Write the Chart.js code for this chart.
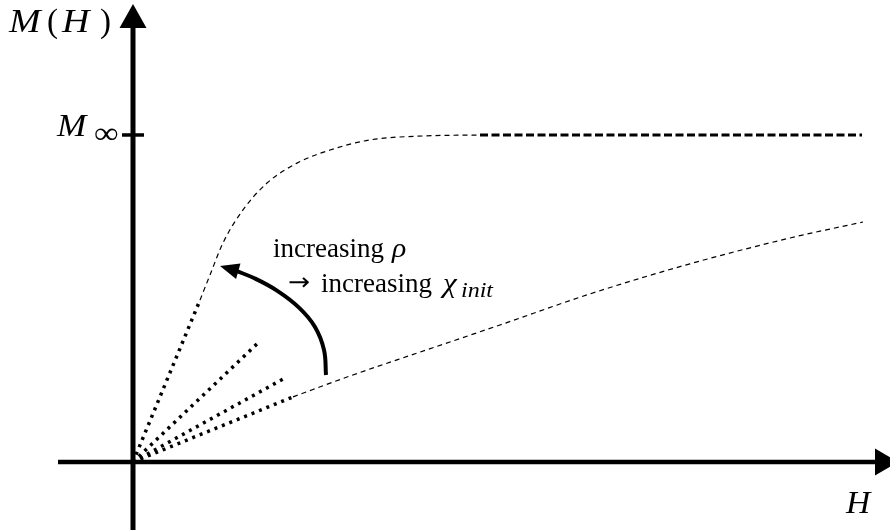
<!DOCTYPE html>
<html>
<head>
<meta charset="utf-8">
<script src="https://cdn.jsdelivr.net/npm/chart.js@4"></script>
<style>
  html, body { margin: 0; padding: 0; background: #fff; }
  canvas { display: block; }
</style>
</head>
<body>
<canvas id="magChart" width="890" height="530"></canvas>
<script>
// H in arbitrary field units, M normalised so that M_inf = 1

// saturating curve (high rho)
const satH = [0.67, 0.77, 0.90, 1.10, 1.34, 1.64, 1.97, 2.37, 2.90, 3.47];
const satM = [0.495, 0.572, 0.670, 0.771, 0.853, 0.914, 0.954, 0.985, 0.997, 1.0];

// saturation plateau M = M_inf
const plateauH = [3.47, 7.29];
const plateauM = [1.0, 1.0];

// slowly rising curve (low rho)
const lowH = [1.60, 2.17, 2.87, 3.67, 4.57, 5.57, 6.57, 7.30];
const lowM = [0.199, 0.263, 0.336, 0.419, 0.514, 0.606, 0.685, 0.734];

// initial slopes: end points of the dotted tangent lines from the origin
const initH = [0.67, 1.25, 1.52, 1.60];
const initM = [0.495, 0.364, 0.257, 0.199];

// curved "increasing rho" arrow
const arrowH = [1.93, 1.91, 1.82, 1.66, 1.44, 1.22, 1.02];
const arrowM = [0.266, 0.343, 0.413, 0.472, 0.524, 0.561, 0.586];
const arrowTip = [0.87, 0.599];

const zip = (xs, ys) => xs.map((x, i) => ({ x: x, y: ys[i] }));

const datasets = [];

initH.forEach((h, i) => {
  datasets.push({
    data: [{ x: 0, y: 0 }, { x: h, y: initM[i] }],
    borderColor: '#000',
    borderWidth: 3.5,
    borderDash: [3, 5],
    borderCapStyle: 'butt'
  });
});

datasets.push({
  data: zip(satH, satM),
  borderColor: '#000',
  borderWidth: 1.2,
  borderDash: [5, 4],
  cubicInterpolationMode: 'monotone'
});

datasets.push({
  data: zip(plateauH, plateauM),
  borderColor: '#000',
  borderWidth: 3.2,
  borderDash: [8, 3.5]
});

datasets.push({
  data: zip(lowH, lowM),
  borderColor: '#000',
  borderWidth: 1.2,
  borderDash: [5, 4],
  cubicInterpolationMode: 'monotone'
});

datasets.push({
  data: zip(arrowH, arrowM),
  borderColor: '#000',
  borderWidth: 4,
  tension: 0.4
});

// axes, arrow heads and math labels
const decorations = {
  id: 'decorations',
  afterDatasetsDraw(chart) {
    const ctx = chart.ctx;
    const xs = chart.scales.x, ys = chart.scales.y;
    const x0 = xs.getPixelForValue(0), y0 = ys.getPixelForValue(0);
    const yInf = ys.getPixelForValue(1);

    ctx.save();
    ctx.fillStyle = '#000';
    ctx.strokeStyle = '#000';

    // vertical axis
    ctx.lineWidth = 5;
    ctx.beginPath();
    ctx.moveTo(x0, 530);
    ctx.lineTo(x0, 24);
    ctx.stroke();
    ctx.beginPath();
    ctx.moveTo(x0, 4);
    ctx.lineTo(x0 - 13.5, 28);
    ctx.lineTo(x0 + 13.5, 28);
    ctx.closePath();
    ctx.fill();

    // horizontal axis
    ctx.lineWidth = 4.5;
    ctx.beginPath();
    ctx.moveTo(xs.getPixelForValue(-0.75), y0);
    ctx.lineTo(880, y0);
    ctx.stroke();
    ctx.beginPath();
    ctx.moveTo(898, y0);
    ctx.lineTo(875, y0 - 13.5);
    ctx.lineTo(875, y0 + 13.5);
    ctx.closePath();
    ctx.fill();

    // M_inf tick
    ctx.lineWidth = 3.5;
    ctx.beginPath();
    ctx.moveTo(x0 - 11, yInf);
    ctx.lineTo(x0 + 11, yInf);
    ctx.stroke();

    // arrow head on the curved arrow
    const bx = xs.getPixelForValue(arrowH[arrowH.length - 1]);
    const by = ys.getPixelForValue(arrowM[arrowM.length - 1]);
    const tx = xs.getPixelForValue(arrowTip[0]);
    const ty = ys.getPixelForValue(arrowTip[1]);
    const ang = Math.atan2(ty - by, tx - bx);
    const len = 19, half = 8;
    const baseX = tx - len * Math.cos(ang), baseY = ty - len * Math.sin(ang);
    ctx.beginPath();
    ctx.moveTo(tx, ty);
    ctx.lineTo(baseX + half * Math.sin(ang), baseY - half * Math.cos(ang));
    ctx.lineTo(baseX - half * Math.sin(ang), baseY + half * Math.cos(ang));
    ctx.closePath();
    ctx.fill();

    // labels
    const serif = '"Liberation Serif", "DejaVu Serif", serif';
    const put = (txt, font, x, y, sx) => {
      ctx.font = font;
      ctx.save();
      ctx.translate(x, y);
      ctx.scale(sx || 1, 1);
      ctx.fillText(txt, 0, 0);
      ctx.restore();
    };
    ctx.textBaseline = 'alphabetic';
    ctx.textAlign = 'left';

    // M(H)
    put('M', 'italic 33px ' + serif, 9, 32, 1.15);
    put('(', '33px ' + serif, 47, 32);
    put('H', 'italic 33px ' + serif, 62, 32, 1.15);
    put(')', '33px ' + serif, 100, 32);

    // M_inf
    put('M', 'italic 32px ' + serif, 57, yInf + 1, 1.1);
    put('\u221E', '30px ' + serif, 94, yInf + 8, 1.15);

    // H
    put('H', 'italic 32px ' + serif, 846, 513, 1.05);

    // increasing rho
    put('increasing', '27px ' + serif, 273, 257);
    put('\u03C1', 'italic 27px ' + serif, 392, 257, 1.1);

    // -> increasing chi_init
    put('\u2192', '24px "DejaVu Sans", sans-serif', 288, 290, 1.1);
    put('increasing', '27px ' + serif, 321, 292);
    put('\u03C7', 'italic 27px ' + serif, 443, 292, 1.15);
    put('init', 'italic 20px ' + serif, 461, 297, 1.2);

    ctx.restore();
  }
};

new Chart(document.getElementById('magChart'), {
  type: 'scatter',
  data: { datasets: datasets },
  options: {
    responsive: false,
    animation: false,
    devicePixelRatio: 1,
    showLine: true,
    layout: { padding: 0 },
    elements: { point: { radius: 0, hoverRadius: 0 } },
    plugins: { legend: { display: false }, tooltip: { enabled: false } },
    scales: {
      x: { type: 'linear', min: -1.33, max: 7.57, display: false },
      y: { type: 'linear', min: -0.208, max: 1.4128, display: false }
    }
  },
  plugins: [decorations]
});
</script>
</body>
</html>
